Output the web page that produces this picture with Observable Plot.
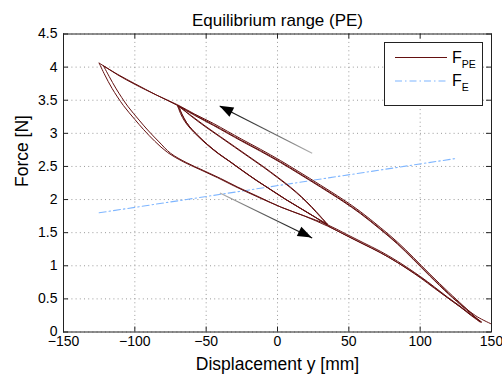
<!DOCTYPE html>
<html>
<head>
<meta charset="utf-8">
<script src="https://cdn.jsdelivr.net/npm/d3@7"></script>
<script src="https://cdn.jsdelivr.net/npm/@observablehq/plot@0.6"></script>
<style>
  html, body { margin: 0; padding: 0; background: #fff; }
  #chart { width: 502px; height: 379px; }
</style>
</head>
<body>
<div id="chart"></div>
<script>
// ---------- Axis ticks ----------
const xTicks = [-150, -100, -50, 0, 50, 100, 150];
const xTickLabels = ["\u2212150", "\u2212100", "\u221250", "0", "50", "100", "150"];
const yTicks = [0, 0.5, 1, 1.5, 2, 2.5, 3, 3.5, 4, 4.5];
const yTickLabels = ["0", "0.5", "1", "1.5", "2", "2.5", "3", "3.5", "4", "4.5"];

// ---------- Text ----------
const titleText = "Equilibrium range (PE)";
const xLabel = "Displacement y [mm]";
const yLabel = "Force [N]";

// ---------- F_PE hysteresis, cycle 1 ----------
const startX = [150, 140, 130];
const startY = [0.12, 0.23, 0.39];
// outer upper branch (moving left)
const upper1X = [130, 120, 107, 95, 84, 72, 58, 46, 30, 15, 2, -12, -25, -35, -45, -58, -70, -85, -100, -112, -125];
const upper1Y = [0.39, 0.58, 0.85, 1.11, 1.34, 1.56, 1.80, 1.98, 2.20, 2.40, 2.57, 2.74, 2.89, 3.01, 3.13, 3.28, 3.42, 3.58, 3.75, 3.89, 4.06];
// outer lower branch (moving right)
const lower1X = [-125, -121, -116, -108, -100, -94, -86, -77, -66, -54, -42, -30, -15, 2, 18, 35, 48, 60, 72, 84, 100, 110, 119, 128, 135, 143];
const lower1Y = [4.06, 3.88, 3.68, 3.42, 3.21, 3.06, 2.88, 2.71, 2.57, 2.45, 2.33, 2.20, 2.05, 1.89, 1.76, 1.62, 1.48, 1.35, 1.22, 1.07, 0.84, 0.68, 0.53, 0.39, 0.27, 0.15];
// return up to the inner turning point (moving left)
const ret1X = [143, 135, 130, 120, 107, 95, 84, 72, 58, 46, 30, 15, 2, -12, -25, -35, -45, -58, -70];
const ret1Y = [0.15, 0.29, 0.38, 0.57, 0.84, 1.10, 1.33, 1.55, 1.79, 1.97, 2.19, 2.39, 2.56, 2.73, 2.88, 3.00, 3.12, 3.27, 3.42];
// inner lower branch (moving right)
const midLower1X = [-70, -68, -65, -61, -56, -50, -42, -34, -25, -15, -5, 5, 15, 25, 35];
const midLower1Y = [3.42, 3.30, 3.18, 3.07, 2.96, 2.84, 2.70, 2.58, 2.44, 2.29, 2.15, 2.01, 1.88, 1.75, 1.63];
// inner upper branch (moving left)
const midUpper1X = [35, 30, 24, 17, 9, 0, -10, -20, -30, -40, -50, -60, -70];
const midUpper1Y = [1.63, 1.75, 1.89, 2.04, 2.19, 2.34, 2.50, 2.65, 2.80, 2.95, 3.10, 3.26, 3.42];
// inner lower again, then continue down to the right end
const tail1X = [-70, -67, -64, -60, -55, -49, -41, -33, -24, -14, -4, 6, 16, 26, 35, 48, 60, 72, 84, 100, 110, 119, 128, 135, 142];
const tail1Y = [3.41, 3.29, 3.17, 3.06, 2.95, 2.83, 2.69, 2.57, 2.43, 2.28, 2.14, 2.00, 1.87, 1.74, 1.61, 1.46, 1.33, 1.20, 1.05, 0.82, 0.66, 0.52, 0.38, 0.26, 0.15];

// ---------- F_PE hysteresis, cycle 2 ----------
const upper2X = [142, 135, 130, 120, 107, 95, 84, 72, 58, 46, 30, 15, 2, -12, -25, -35, -45, -58, -70, -85, -100, -111, -122];
const upper2Y = [0.15, 0.30, 0.40, 0.60, 0.87, 1.13, 1.36, 1.58, 1.82, 2.00, 2.22, 2.42, 2.59, 2.76, 2.91, 3.03, 3.15, 3.29, 3.43, 3.58, 3.74, 3.87, 4.02];
const lower2X = [-122, -118, -113, -105, -97, -91, -83, -75, -64, -52, -40, -28, -13, 3, 19, 35, 48, 60, 72, 84, 100, 110, 119, 128, 135, 142];
const lower2Y = [4.02, 3.86, 3.67, 3.41, 3.20, 3.05, 2.87, 2.70, 2.56, 2.44, 2.32, 2.19, 2.04, 1.88, 1.75, 1.60, 1.46, 1.33, 1.20, 1.05, 0.83, 0.67, 0.52, 0.38, 0.27, 0.16];
const midLower2X = [-69, -67, -64, -60, -55, -49, -41, -33, -24, -14, -4, 6, 16, 26, 35];
const midLower2Y = [3.41, 3.29, 3.17, 3.06, 2.95, 2.83, 2.69, 2.57, 2.43, 2.28, 2.14, 2.00, 1.87, 1.74, 1.62];
const midUpper2X = [35, 30, 24, 17, 9, 0, -10, -20, -30, -40, -50, -60, -69];
const midUpper2Y = [1.62, 1.74, 1.88, 2.03, 2.18, 2.33, 2.49, 2.64, 2.79, 2.94, 3.09, 3.25, 3.41];

// ---------- F_E (linear) ----------
const feX = [-125, 125];
const feY = [1.80, 2.62];

// ---------- Direction arrows (tail -> head) ----------
const arrowTailX = [24.3, -40.4];
const arrowTailY = [2.70, 2.10];
const arrowHeadX = [-40.4, 24.3];
const arrowHeadY = [3.41, 1.42];

// ---------- Legend ----------
const legendNames = ["F", "F"];
const legendSubs = ["PE", "E"];

// ---------- Colours / styles ----------
const peColor = "#641010";
const feColor = "#7fb6ff";
const feDash = "7,3,1.5,3";

// ---------- Build table ----------
function branch(id, xs, ys) { return xs.map((x, i) => ({ x, y: ys[i], id })); }
const peRows = [
  ...branch("s", startX, startY),
  ...branch("u1", upper1X, upper1Y),
  ...branch("l1", lower1X, lower1Y),
  ...branch("r1", ret1X, ret1Y),
  ...branch("ml1", midLower1X, midLower1Y),
  ...branch("mu1", midUpper1X, midUpper1Y),
  ...branch("t1", tail1X, tail1Y),
  ...branch("u2", upper2X, upper2Y),
  ...branch("l2", lower2X, lower2Y),
  ...branch("ml2", midLower2X, midLower2Y),
  ...branch("mu2", midUpper2X, midUpper2Y)
];
const feRows = feX.map((x, i) => ({ x, y: feY[i] }));
const arrows = arrowTailX.map((x, i) => ({ x1: x, y1: arrowTailY[i], x2: arrowHeadX[i], y2: arrowHeadY[i], id: i }));

const W = 502, H = 379;
const mL = 63, mR = 11, mT = 33.5, mB = 47.5;
const innerW = W - mL - mR, innerH = H - mT - mB;
const tickLen = 5;
const font = "'Liberation Sans', Arial, Helvetica, sans-serif";

const plot = Plot.plot({
  width: W, height: H,
  marginLeft: mL, marginRight: mR, marginTop: mT, marginBottom: mB,
  style: { fontFamily: font, background: "#fff", color: "#000", overflow: "visible" },
  x: { domain: [-150, 150] },
  y: { domain: [0, 4.5] },
  marks: [
    Plot.gridX(xTicks, { stroke: "#9a9a9a", strokeOpacity: 1, strokeDasharray: "1,3.2" }),
    Plot.gridY(yTicks, { stroke: "#9a9a9a", strokeOpacity: 1, strokeDasharray: "1,3.2" }),
    Plot.line(feRows, { x: "x", y: "y", stroke: feColor, strokeWidth: 1.1, strokeDasharray: feDash }),
    Plot.line(peRows, { x: "x", y: "y", z: "id", stroke: peColor, strokeWidth: 1, curve: "catmull-rom" }),
    Plot.link(arrows.filter(d => d.id === 0), { x1: "x1", y1: "y1", x2: "x2", y2: "y2", stroke: "url(#arrGrad0)", strokeWidth: 1.2 }),
    Plot.link(arrows.filter(d => d.id === 1), { x1: "x1", y1: "y1", x2: "x2", y2: "y2", stroke: "url(#arrGrad1)", strokeWidth: 1.2 }),
    Plot.frame({ stroke: "#222", strokeWidth: 1 }),
    Plot.tickX(xTicks, { x: d => d, stroke: "#222", insetTop: innerH - tickLen }),
    Plot.tickX(xTicks, { x: d => d, stroke: "#222", insetBottom: innerH - tickLen }),
    Plot.tickY(yTicks, { y: d => d, stroke: "#222", insetRight: innerW - tickLen }),
    Plot.tickY(yTicks, { y: d => d, stroke: "#222", insetLeft: innerW - tickLen }),
    Plot.axisX(xTicks, { anchor: "bottom", tickSize: 0, tickPadding: 4.5, fontSize: 14, label: null,
      tickFormat: d => xTickLabels[xTicks.indexOf(d)] }),
    Plot.axisY(yTicks, { anchor: "left", tickSize: 0, tickPadding: 6, fontSize: 14, label: null,
      tickFormat: d => yTickLabels[yTicks.indexOf(d)] }),
    Plot.text([titleText], { frameAnchor: "top", lineAnchor: "bottom", dy: -8.5, fontSize: 17, fill: "#000" }),
    Plot.text([xLabel], { frameAnchor: "bottom", lineAnchor: "bottom", dy: 38, fontSize: 17.5, fill: "#000" }),
    Plot.text([yLabel], { frameAnchor: "left", lineAnchor: "bottom", rotate: -90, dx: -36, dy: 4, fontSize: 17.5, fill: "#000" })
  ]
});

const svg = d3.select(plot);
const sx = plot.scale("x"), sy = plot.scale("y");

// gradients and arrow heads
const defs = svg.insert("defs", ":first-child");
arrows.forEach((a, i) => {
  const tx = sx.apply(a.x1), ty = sy.apply(a.y1), hx = sx.apply(a.x2), hy = sy.apply(a.y2);
  const g = defs.append("linearGradient").attr("id", "arrGrad" + i)
    .attr("gradientUnits", "userSpaceOnUse")
    .attr("x1", tx).attr("y1", ty).attr("x2", hx).attr("y2", hy);
  g.append("stop").attr("offset", 0).attr("stop-color", "#b0b0b0");
  g.append("stop").attr("offset", 1).attr("stop-color", "#000");
  const dx = hx - tx, dy = hy - ty, len = Math.hypot(dx, dy);
  const ux = dx / len, uy = dy / len, px = -uy, py = ux;
  const hl = 14, hw = 5.2;
  const bx = hx - ux * hl, by = hy - uy * hl;
  svg.append("polygon")
    .attr("points", [[hx, hy], [bx + px * hw, by + py * hw], [bx - px * hw, by - py * hw]].map(p => p.join(",")).join(" "))
    .attr("fill", "#000");
});

// legend box
const lg = svg.append("g").attr("font-family", font).attr("text-anchor", "start");
lg.append("rect").attr("x", 384.5).attr("y", 42.5).attr("width", 98).attr("height", 63)
  .attr("fill", "#fff").attr("stroke", "#222").attr("stroke-width", 1);
const legY = [57.5, 81];
legendNames.forEach((n, i) => {
  const y = legY[i];
  const ln = lg.append("line").attr("x1", 395).attr("x2", 447).attr("y1", y).attr("y2", y)
    .attr("stroke", i === 0 ? peColor : feColor).attr("stroke-width", 1.1);
  if (i === 1) ln.attr("stroke-dasharray", feDash);
  const t = lg.append("text").attr("x", 452).attr("y", y + 5).attr("font-size", 16)
    .attr("fill", "#000").attr("text-anchor", "start");
  t.append("tspan").text(n);
  t.append("tspan").attr("font-size", 10.5).attr("dy", 5).text(legendSubs[i]);
});

document.getElementById("chart").appendChild(plot);
</script>
</body>
</html>
